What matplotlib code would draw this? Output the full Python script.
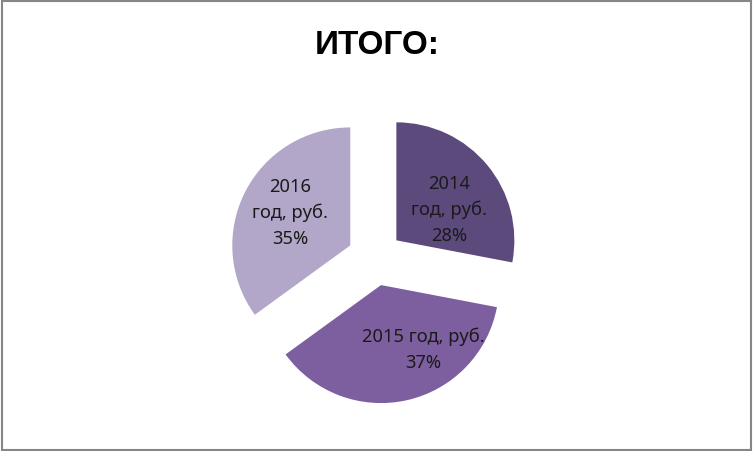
import matplotlib.pyplot as plt
from matplotlib.patches import Rectangle

plt.rcParams['font.family'] = ['Noto Sans', 'DejaVu Sans']

# данные
years = ['2014 год, руб.', '2015 год, руб.', '2016 год, руб.']
shares = [28, 37, 35]
colors = ['#5C4A7D', '#7D5FA0', '#B2A7C9']
label_texts = ['2014\nгод, руб.\n28%', '2015 год, руб.\n37%', '2016\nгод, руб.\n35%']

fig = plt.figure(figsize=(7.53, 4.51), dpi=100)
ax = fig.add_axes([0, 0, 1, 1])

R = 118
wedges, texts = ax.pie(shares, colors=colors, startangle=90, counterclock=False,
                       explode=[0.235 * R] * 3, center=(375, 193), radius=R,
                       labels=label_texts, labeldistance=0.6,
                       wedgeprops=dict(linewidth=0),
                       textprops=dict(fontsize=13.2, ha='center', va='center',
                                      linespacing=1.55, color='#1a1a1a'))
ax.set_xlim(0, 753)
ax.set_ylim(0, 451)
ax.set_aspect('equal')
ax.axis('off')

# подписи как в Excel (best fit)
label_pos = [(449, 241), (423, 101), (290, 238)]
for t, p in zip(texts, label_pos):
    t.set_position(p)
    t.set_ha('center')

ax.text(377, 406, 'ИТОГО:', fontsize=24, fontweight='bold', family='Liberation Sans',
        ha='center', va='center')

fig.patches.append(Rectangle((0.002, 0.003), 0.996, 0.994, transform=fig.transFigure,
                             fill=False, edgecolor='#868686', linewidth=1.5))

fig.savefig('out.png', dpi=100)
